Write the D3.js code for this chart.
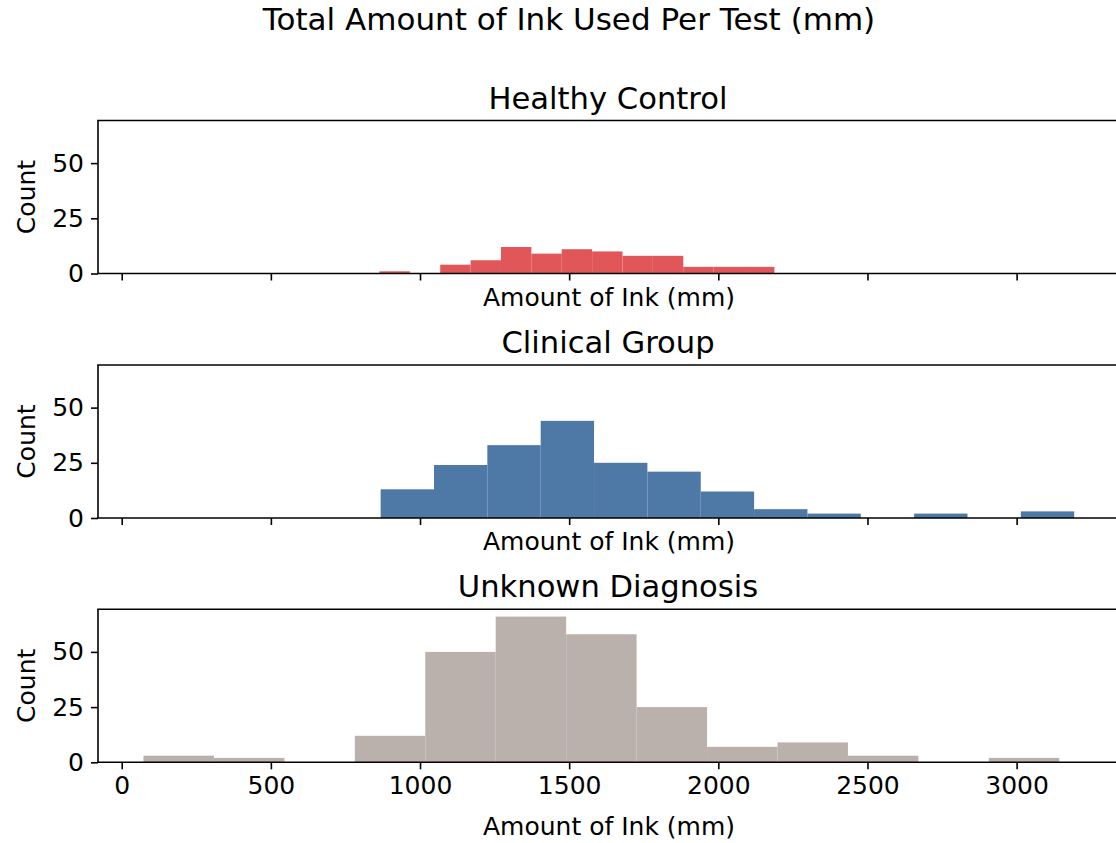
<!DOCTYPE html>
<html>
<head>
<meta charset="utf-8">
<script src="https://cdn.jsdelivr.net/npm/d3@7"></script>
<style>
  html, body { margin: 0; padding: 0; background: #ffffff; }
  svg { display: block; }
  text { font-family: "DejaVu Sans", sans-serif; fill: #000000; }
</style>
</head>
<body>
<div id="chart"></div>
<script>
// ---------------- data ----------------
const chartTitle = "Total Amount of Ink Used Per Test (mm)";
const groupNames = ["Healthy Control", "Clinical Group", "Unknown Diagnosis"];
const groupColors = ["#e15759", "#4e79a7", "#bab0ac"];

// histogram range [min, max] of each group (13 equal-width bins)
const healthyRange = [864, 2188];
const clinicalRange = [868, 3193];
const unknownRange = [73, 3143];

const healthyCounts  = [1, 0, 4, 6, 12, 9, 11, 10, 8, 8, 3, 3, 3];
const clinicalCounts = [13, 24, 33, 44, 25, 21, 12, 4, 2, 0, 2, 0, 3];
const unknownCounts  = [3, 2, 0, 12, 50, 66, 58, 25, 7, 9, 3, 0, 2];

const xTicks = [0, 500, 1000, 1500, 2000, 2500, 3000];
const yTicks = [0, 25, 50];
const xLimits = [-79.5, 3350];
const xLabel = "Amount of Ink (mm)";
const yLabel = "Count";

// ---------------- layout ----------------
const W = 1116, H = 843;
const plotLeft = 98, pxPerUnit = 0.2983;
const axTops = [120.5, 365, 609.3];
const axH = 153;

const ranges = [healthyRange, clinicalRange, unknownRange];
const counts = [healthyCounts, clinicalCounts, unknownCounts];

const svg = d3.select("#chart").append("svg")
  .attr("width", W).attr("height", H)
  .attr("viewBox", `0 0 ${W} ${H}`);
svg.append("rect").attr("width", W).attr("height", H).attr("fill", "#fff");

const x = d3.scaleLinear()
  .domain(xLimits)
  .range([plotLeft, plotLeft + (xLimits[1] - xLimits[0]) * pxPerUnit]);

const maxCount = d3.max(counts.flat());
const yMax = maxCount * 1.05;

svg.append("text")
  .attr("x", 569).attr("y", 30)
  .attr("text-anchor", "middle")
  .style("font-size", "31px")
  .text(chartTitle);

groupNames.forEach((name, gi) => {
  const top = axTops[gi];
  const bottom = top + axH;
  const y = d3.scaleLinear().domain([0, yMax]).range([bottom, top]);
  const g = svg.append("g");

  // bins
  const [lo, hi] = ranges[gi];
  const n = counts[gi].length;
  const bw = (hi - lo) / n;
  const bins = counts[gi].map((c, i) => ({ x0: lo + i * bw, x1: lo + (i + 1) * bw, c }));

  g.selectAll("rect.bar").data(bins.filter(b => b.c > 0)).enter()
    .append("rect").attr("class", "bar")
    .attr("x", d => x(d.x0))
    .attr("width", d => x(d.x1) - x(d.x0))
    .attr("y", d => y(d.c))
    .attr("height", d => y(0) - y(d.c))
    .attr("fill", groupColors[gi]);

  // spines: left, top, bottom (right is beyond canvas)
  const right = x(xLimits[1]);
  const spine = g.append("g").attr("stroke", "#000").attr("stroke-width", 1.6).attr("fill", "none");
  spine.append("line").attr("x1", plotLeft).attr("x2", plotLeft).attr("y1", top).attr("y2", bottom);
  spine.append("line").attr("x1", plotLeft - 0.8).attr("x2", right).attr("y1", top).attr("y2", top);
  spine.append("line").attr("x1", plotLeft - 0.8).attr("x2", right).attr("y1", bottom).attr("y2", bottom);

  // x axis
  const xAxis = d3.axisBottom(x).tickValues(xTicks).tickSize(7).tickPadding(7)
    .tickFormat(gi === 2 ? d3.format("d") : () => "");
  const xa = g.append("g").attr("transform", `translate(0,${bottom})`).call(xAxis);
  xa.select(".domain").remove();
  xa.selectAll(".tick line").attr("stroke", "#000").attr("stroke-width", 1.6);
  xa.selectAll(".tick text").style("font-size", "25px").attr("fill", "#000")
    .attr("font-family", "DejaVu Sans");

  // y axis
  const yAxis = d3.axisLeft(y).tickValues(yTicks).tickSize(7).tickPadding(7);
  const ya = g.append("g").attr("transform", `translate(${plotLeft},0)`).call(yAxis);
  ya.select(".domain").remove();
  ya.selectAll(".tick line").attr("stroke", "#000").attr("stroke-width", 1.6);
  ya.selectAll(".tick text").style("font-size", "25px").attr("fill", "#000")
    .attr("font-family", "DejaVu Sans");

  // subplot title
  g.append("text")
    .attr("x", 608).attr("y", top - 12)
    .attr("text-anchor", "middle")
    .style("font-size", "30.6px")
    .text(name);

  // x label
  g.append("text")
    .attr("x", 609).attr("y", gi === 2 ? bottom + 73 : bottom + 32)
    .attr("text-anchor", "middle")
    .style("font-size", "25px")
    .text(xLabel);

  // y label
  g.append("text")
    .attr("transform", `translate(35,${(top + bottom) / 2}) rotate(-90)`)
    .attr("text-anchor", "middle")
    .style("font-size", "25px")
    .text(yLabel);
});
</script>
</body>
</html>
